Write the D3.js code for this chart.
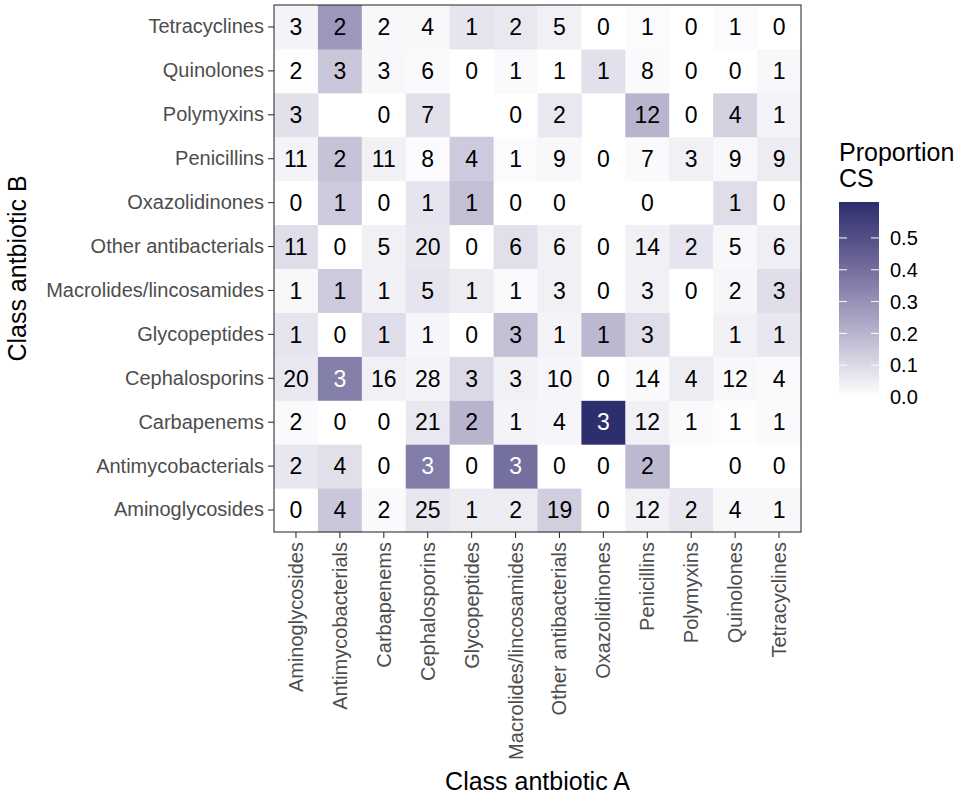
<!DOCTYPE html>
<html>
<head>
<meta charset="utf-8">
<script src="https://cdn.jsdelivr.net/npm/d3@7"></script>
<style>
  body { margin: 0; background: #fff; }
  svg { font-family: "Liberation Sans", Arial, sans-serif; }
</style>
</head>
<body>
<div id="chart"></div>
<script>
// antibiotic classes, same order on both axes (first = bottom / left)
const classes = [
  'Aminoglycosides', 'Antimycobacterials', 'Carbapenems', 'Cephalosporins',
  'Glycopeptides', 'Macrolides/lincosamides', 'Other antibacterials',
  'Oxazolidinones', 'Penicillins', 'Polymyxins', 'Quinolones', 'Tetracyclines'
];

// counts[b][a] : row = class B, column = class A (null = no data)
const counts = [
  [0, 4, 2, 25, 1, 2, 19, 0, 12, 2, 4, 1],
  [2, 4, 0, 3, 0, 3, 0, 0, 2, null, 0, 0],
  [2, 0, 0, 21, 2, 1, 4, 3, 12, 1, 1, 1],
  [20, 3, 16, 28, 3, 3, 10, 0, 14, 4, 12, 4],
  [1, 0, 1, 1, 0, 3, 1, 1, 3, null, 1, 1],
  [1, 1, 1, 5, 1, 1, 3, 0, 3, 0, 2, 3],
  [11, 0, 5, 20, 0, 6, 6, 0, 14, 2, 5, 6],
  [0, 1, 0, 1, 1, 0, 0, null, 0, null, 1, 0],
  [11, 2, 11, 8, 4, 1, 9, 0, 7, 3, 9, 9],
  [3, null, 0, 7, null, 0, 2, null, 12, 0, 4, 1],
  [2, 3, 3, 6, 0, 1, 1, 1, 8, 0, 0, 1],
  [3, 2, 2, 4, 1, 2, 5, 0, 1, 0, 1, 0]
];

// proportion CS, same layout
const props = [
  [0, 0.15, 0.015, 0.065, 0.05, 0.05, 0.13, 0, 0.04, 0.065, 0.02, 0.02],
  [0.065, 0.085, 0, 0.36, 0, 0.40, 0, 0, 0.19, null, 0, 0],
  [0.015, 0, 0, 0.06, 0.2, 0.03, 0.025, 0.61, 0.04, 0.015, 0.005, 0.015],
  [0.06, 0.35, 0.04, 0.03, 0.1, 0.04, 0.025, 0, 0.015, 0.05, 0.02, 0.015],
  [0.07, 0, 0.09, 0.025, 0, 0.17, 0.03, 0.19, 0.09, null, 0.04, 0.065],
  [0.02, 0.14, 0.035, 0.07, 0.05, 0.015, 0.04, 0, 0.04, 0, 0.025, 0.09],
  [0.09, 0, 0.04, 0.065, 0, 0.085, 0.04, 0, 0.04, 0.07, 0.02, 0.045],
  [0, 0.14, 0, 0.07, 0.17, 0, 0, null, 0, null, 0.09, 0],
  [0.03, 0.16, 0.04, 0.01, 0.14, 0.01, 0.02, 0, 0.015, 0.04, 0.02, 0.05],
  [0.08, null, 0, 0.08, null, 0, 0.06, null, 0.2, 0, 0.12, 0.03],
  [0.005, 0.15, 0.02, 0.015, 0, 0.015, 0, 0.08, 0.015, 0, 0, 0.02],
  [0.03, 0.28, 0.02, 0.02, 0.07, 0.06, 0.04, 0, 0.01, 0, 0.01, 0]
];

const legendTicks = [0, 0.1, 0.2, 0.3, 0.4, 0.5];
const propMax = 0.613;

const W = 964, H = 797;
const panel = { left: 274, right: 801, top: 5, bottom: 532 };

const svg = d3.select('#chart').append('svg')
  .attr('width', W).attr('height', H);

const x = d3.scaleBand().domain(classes).range([panel.left, panel.right]);
const y = d3.scaleBand().domain(classes).range([panel.bottom, panel.top]);

const color = d3.scaleLinear()
  .domain([0, propMax])
  .range(['#ffffff', '#2c2d6d'])
  .interpolate(d3.interpolateLab);

const cells = [];
counts.forEach((row, bi) => {
  row.forEach((n, ai) => {
    if (n === null) return;
    cells.push({ a: classes[ai], b: classes[bi], n: n, p: props[bi][ai] });
  });
});

const g = svg.append('g');

g.selectAll('rect.cell')
  .data(cells)
  .enter()
  .append('rect')
  .attr('class', 'cell')
  .attr('x', (d) => x(d.a))
  .attr('y', (d) => y(d.b))
  .attr('width', x.bandwidth() + 0.5)
  .attr('height', y.bandwidth() + 0.5)
  .attr('fill', (d) => color(d.p));

g.selectAll('text.lab')
  .data(cells)
  .enter()
  .append('text')
  .attr('class', 'lab')
  .attr('x', (d) => x(d.a) + x.bandwidth() / 2)
  .attr('y', (d) => y(d.b) + y.bandwidth() / 2)
  .attr('dy', '0.36em')
  .attr('text-anchor', 'middle')
  .attr('font-size', 23)
  .attr('fill', (d) => (d.p > 0.3 ? '#ffffff' : '#000000'))
  .text((d) => d.n);

// panel border
svg.append('rect')
  .attr('x', panel.left).attr('y', panel.top)
  .attr('width', panel.right - panel.left)
  .attr('height', panel.bottom - panel.top)
  .attr('fill', 'none')
  .attr('stroke', '#333333')
  .attr('stroke-width', 1.1);

// axes
const xAxis = svg.append('g')
  .attr('transform', `translate(0,${panel.bottom})`)
  .call(d3.axisBottom(x).tickSize(6).tickPadding(4));
xAxis.select('.domain').remove();
xAxis.selectAll('line').attr('stroke', '#333333').attr('stroke-width', 1.1);
xAxis.selectAll('text')
  .attr('font-size', 20)
  .attr('font-family', '"Liberation Sans", Arial, sans-serif')
  .attr('fill', '#4d4d4d')
  .attr('transform', 'rotate(-90)')
  .attr('text-anchor', 'end')
  .attr('x', -10)
  .attr('y', 0)
  .attr('dy', '0.35em');

const yAxis = svg.append('g')
  .attr('transform', `translate(${panel.left},0)`)
  .call(d3.axisLeft(y).tickSize(6).tickPadding(4));
yAxis.select('.domain').remove();
yAxis.selectAll('line').attr('stroke', '#333333').attr('stroke-width', 1.1);
yAxis.selectAll('text')
  .attr('font-size', 20)
  .attr('font-family', '"Liberation Sans", Arial, sans-serif')
  .attr('fill', '#4d4d4d');

// axis titles
svg.append('text')
  .attr('x', (panel.left + panel.right) / 2)
  .attr('y', 790)
  .attr('text-anchor', 'middle')
  .attr('font-size', 25)
  .text('Class antbiotic A');

svg.append('text')
  .attr('transform', `translate(26,${(panel.top + panel.bottom) / 2}) rotate(-90)`)
  .attr('text-anchor', 'middle')
  .attr('font-size', 25)
  .text('Class antbiotic B');

// legend
const leg = { x: 839, w: 40, top: 202, bottom: 397 };
const ly = d3.scaleLinear().domain([0, propMax]).range([leg.bottom, leg.top]);

const grad = svg.append('defs').append('linearGradient')
  .attr('id', 'cs-grad')
  .attr('x1', 0).attr('y1', 1).attr('x2', 0).attr('y2', 0);
d3.range(0, 11).forEach((i) => {
  grad.append('stop')
    .attr('offset', i / 10)
    .attr('stop-color', color((propMax * i) / 10));
});

svg.append('rect')
  .attr('x', leg.x).attr('y', leg.top)
  .attr('width', leg.w).attr('height', leg.bottom - leg.top)
  .attr('fill', 'url(#cs-grad)');

const lt = svg.append('g');
legendTicks.forEach((t) => {
  lt.append('line')
    .attr('x1', leg.x).attr('x2', leg.x + 8)
    .attr('y1', ly(t)).attr('y2', ly(t))
    .attr('stroke', '#ffffff').attr('stroke-width', 1);
  lt.append('line')
    .attr('x1', leg.x + leg.w - 8).attr('x2', leg.x + leg.w)
    .attr('y1', ly(t)).attr('y2', ly(t))
    .attr('stroke', '#ffffff').attr('stroke-width', 1);
  lt.append('text')
    .attr('x', leg.x + leg.w + 11)
    .attr('y', ly(t))
    .attr('dy', '0.36em')
    .attr('font-size', 20)
    .attr('fill', '#000000')
    .text(d3.format('.1f')(t));
});

svg.append('text')
  .attr('x', leg.x)
  .attr('y', 161)
  .attr('font-size', 25)
  .text('Proportion');
svg.append('text')
  .attr('x', leg.x)
  .attr('y', 187)
  .attr('font-size', 25)
  .text('CS');
</script>
</body>
</html>
